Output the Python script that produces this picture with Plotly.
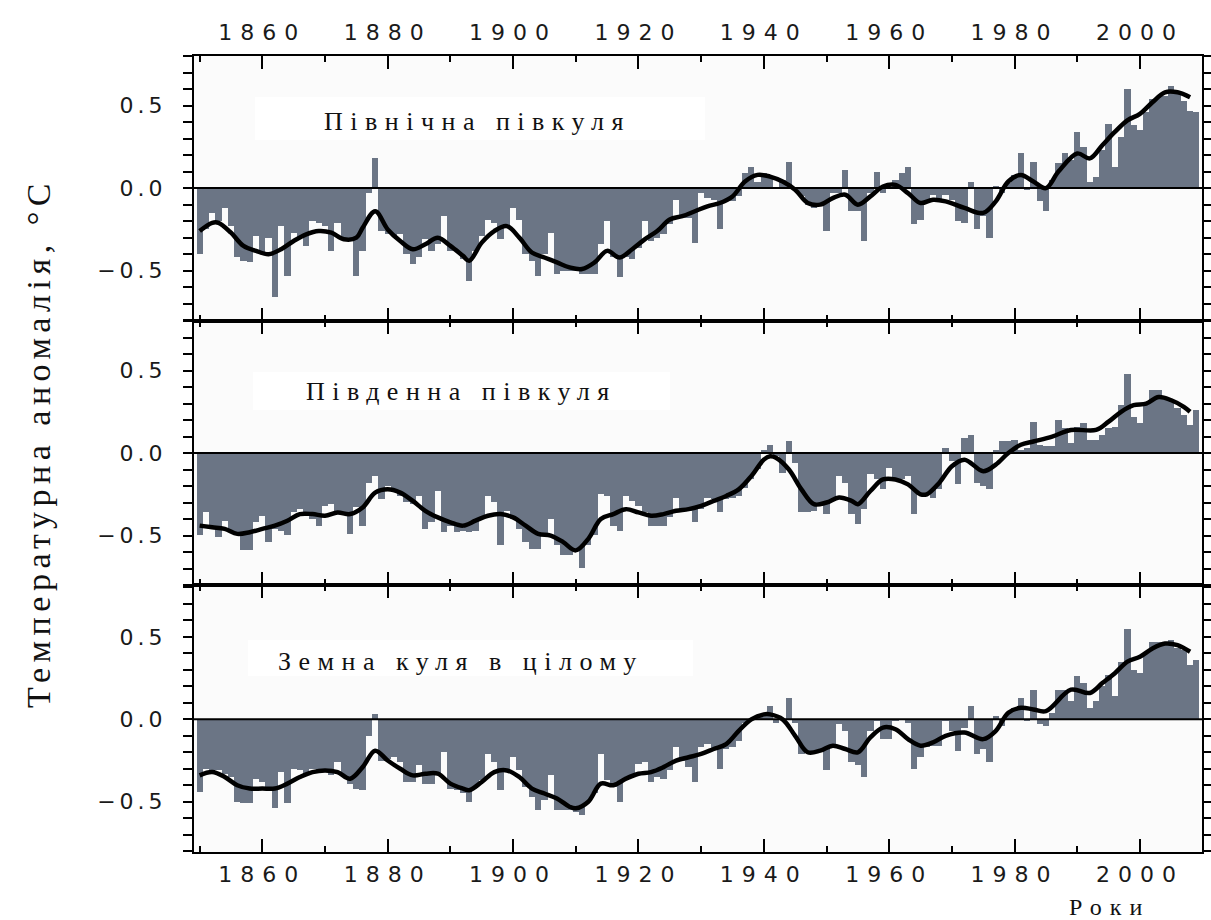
import plotly.graph_objects as go
from plotly.subplots import make_subplots

years = list(range(1850, 2010))

nh_annual = [
    -0.40, -0.25, -0.15, -0.20, -0.12, -0.23, -0.42, -0.44, -0.45, -0.29,
    -0.40, -0.30, -0.66, -0.23, -0.53, -0.27, -0.30, -0.35, -0.20, -0.21,
    -0.23, -0.38, -0.21, -0.31, -0.32, -0.53, -0.38, -0.03, 0.18, -0.26,
    -0.28, -0.29, -0.28, -0.40, -0.46, -0.42, -0.31, -0.38, -0.34, -0.17,
    -0.38, -0.38, -0.43, -0.56, -0.38, -0.29, -0.19, -0.21, -0.31, -0.24,
    -0.12, -0.19, -0.40, -0.44, -0.53, -0.40, -0.27, -0.52, -0.50, -0.50,
    -0.50, -0.52, -0.52, -0.52, -0.34, -0.20, -0.42, -0.54, -0.42, -0.43,
    -0.36, -0.20, -0.32, -0.30, -0.28, -0.22, -0.07, -0.18, -0.18, -0.33,
    -0.03, -0.06, -0.07, -0.25, -0.07, -0.08, -0.05, 0.09, 0.13, 0.04,
    0.09, 0.07, 0.00, 0.05, 0.16, 0.00, -0.05, -0.10, -0.12, -0.10,
    -0.26, -0.03, -0.03, 0.11, -0.14, -0.14, -0.32, -0.03, 0.10, -0.03,
    0.00, 0.05, 0.09, 0.13, -0.22, -0.19, -0.07, -0.04, -0.08, -0.04,
    -0.07, -0.20, -0.21, 0.04, -0.25, -0.17, -0.30, 0.01, -0.03, 0.03,
    0.08, 0.21, -0.01, 0.16, -0.08, -0.14, 0.05, 0.15, 0.21, 0.17,
    0.34, 0.25, 0.04, 0.07, 0.23, 0.39, 0.13, 0.31, 0.60, 0.38,
    0.35, 0.46, 0.54, 0.55, 0.56, 0.62, 0.58, 0.53, 0.47, 0.46,
]

sh_annual = [
    -0.50, -0.36, -0.46, -0.51, -0.41, -0.48, -0.50, -0.59, -0.59, -0.42,
    -0.38, -0.54, -0.46, -0.47, -0.50, -0.36, -0.34, -0.38, -0.40, -0.44,
    -0.32, -0.31, -0.36, -0.36, -0.49, -0.33, -0.44, -0.18, -0.14, -0.28,
    -0.20, -0.23, -0.26, -0.30, -0.31, -0.26, -0.46, -0.42, -0.23, -0.48,
    -0.44, -0.48, -0.47, -0.48, -0.47, -0.40, -0.26, -0.30, -0.56, -0.35,
    -0.40, -0.46, -0.54, -0.58, -0.58, -0.49, -0.40, -0.56, -0.62, -0.62,
    -0.59, -0.70, -0.56, -0.50, -0.25, -0.26, -0.44, -0.47, -0.26, -0.29,
    -0.32, -0.36, -0.44, -0.44, -0.44, -0.39, -0.27, -0.35, -0.35, -0.42,
    -0.34, -0.27, -0.28, -0.36, -0.28, -0.27, -0.26, -0.21, -0.16, -0.10,
    0.02, 0.05, -0.02, -0.12, 0.07, -0.06, -0.36, -0.36, -0.35, -0.32,
    -0.37, -0.29, -0.14, -0.18, -0.37, -0.43, -0.34, -0.13, -0.16, -0.22,
    -0.09, -0.16, -0.16, -0.14, -0.37, -0.24, -0.24, -0.27, -0.22, 0.03,
    -0.05, -0.19, 0.09, 0.11, -0.18, -0.20, -0.22, 0.02, 0.07, 0.07,
    0.08, 0.02, 0.03, 0.19, 0.05, 0.04, 0.04, 0.20, 0.15, 0.06,
    0.16, 0.18, 0.08, 0.08, 0.11, 0.15, 0.16, 0.29, 0.48, 0.22,
    0.18, 0.30, 0.38, 0.38, 0.34, 0.33, 0.27, 0.23, 0.17, 0.26,
]

gl_annual = [
    -0.44, -0.30, -0.32, -0.31, -0.33, -0.35, -0.50, -0.51, -0.51, -0.36,
    -0.38, -0.42, -0.54, -0.32, -0.51, -0.30, -0.31, -0.33, -0.30, -0.31,
    -0.31, -0.34, -0.26, -0.35, -0.39, -0.42, -0.43, -0.10, 0.03, -0.25,
    -0.24, -0.23, -0.26, -0.38, -0.38, -0.28, -0.39, -0.39, -0.33, -0.20,
    -0.42, -0.43, -0.45, -0.50, -0.41, -0.37, -0.21, -0.26, -0.43, -0.32,
    -0.23, -0.31, -0.41, -0.47, -0.55, -0.49, -0.34, -0.55, -0.55, -0.55,
    -0.56, -0.58, -0.50, -0.45, -0.21, -0.37, -0.41, -0.50, -0.36, -0.34,
    -0.27, -0.26, -0.38, -0.35, -0.36, -0.31, -0.17, -0.25, -0.29, -0.38,
    -0.17, -0.15, -0.18, -0.30, -0.18, -0.17, -0.13, -0.02, 0.00, 0.02,
    0.04, 0.08, -0.02, 0.00, 0.13, -0.02, -0.21, -0.19, -0.19, -0.20,
    -0.31, -0.15, -0.03, -0.07, -0.26, -0.28, -0.35, -0.07, -0.01, -0.12,
    -0.12, -0.01, 0.00, -0.02, -0.30, -0.23, -0.17, -0.16, -0.16, -0.01,
    -0.07, -0.19, -0.05, 0.08, -0.21, -0.18, -0.26, 0.02, -0.04, 0.04,
    0.07, 0.13, -0.01, 0.18, -0.03, -0.04, 0.04, 0.18, 0.18, 0.11,
    0.26, 0.22, 0.07, 0.11, 0.20, 0.27, 0.14, 0.35, 0.55, 0.30,
    0.28, 0.41, 0.47, 0.47, 0.46, 0.48, 0.43, 0.42, 0.33, 0.36,
]

nh_smooth_years = [1850, 1852, 1853, 1855, 1857, 1859, 1861, 1863, 1865, 1867, 1869, 1871,
                   1873, 1875, 1876, 1878, 1880, 1882, 1884, 1886, 1888, 1890, 1892, 1893,
                   1895, 1897, 1899, 1901, 1903, 1905, 1907, 1909, 1911, 1913, 1915, 1917,
                   1919, 1921, 1923, 1925, 1927, 1929, 1931, 1933, 1935, 1937, 1939, 1941,
                   1943, 1945, 1947, 1949, 1951, 1953, 1955, 1957, 1959, 1961, 1963, 1965,
                   1967, 1969, 1972, 1975, 1977, 1979, 1981, 1983, 1985, 1987, 1990, 1992,
                   1994, 1996, 1998, 2000, 2002, 2004, 2006, 2008]
nh_smooth = [-0.26, -0.21, -0.21, -0.27, -0.35, -0.38, -0.40, -0.37, -0.32, -0.28, -0.26, -0.27,
             -0.31, -0.30, -0.24, -0.14, -0.25, -0.32, -0.37, -0.34, -0.30, -0.35, -0.41, -0.44,
             -0.33, -0.26, -0.23, -0.30, -0.39, -0.42, -0.45, -0.48, -0.49, -0.45, -0.38, -0.42,
             -0.37, -0.31, -0.26, -0.19, -0.17, -0.14, -0.11, -0.09, -0.05, 0.04, 0.08, 0.07,
             0.04, -0.01, -0.09, -0.10, -0.06, -0.04, -0.10, -0.05, 0.01, 0.02, -0.03, -0.09,
             -0.07, -0.08, -0.12, -0.15, -0.08, 0.04, 0.08, 0.04, 0.00, 0.10, 0.21, 0.18,
             0.26, 0.34, 0.41, 0.45, 0.52, 0.58, 0.58, 0.55]

sh_smooth_years = [1850, 1852, 1854, 1856, 1858, 1860, 1862, 1864, 1866, 1868, 1870, 1872,
                   1874, 1876, 1878, 1880, 1882, 1884, 1886, 1888, 1890, 1892, 1894, 1896,
                   1898, 1900, 1902, 1904, 1906, 1908, 1910, 1912, 1914, 1916, 1918, 1920,
                   1922, 1924, 1926, 1928, 1930, 1932, 1934, 1936, 1938, 1940, 1941, 1942,
                   1944, 1946, 1948, 1950, 1952, 1954, 1955, 1957, 1959, 1961, 1963, 1965,
                   1966, 1968, 1970, 1972, 1975, 1977, 1979, 1981, 1983, 1986, 1989, 1993,
                   1995, 1997, 1999, 2001, 2003, 2005, 2007, 2008]
sh_smooth = [-0.44, -0.45, -0.46, -0.49, -0.48, -0.46, -0.44, -0.41, -0.37, -0.37, -0.38, -0.36,
             -0.37, -0.33, -0.24, -0.22, -0.24, -0.29, -0.35, -0.39, -0.42, -0.44, -0.41, -0.38,
             -0.37, -0.39, -0.44, -0.49, -0.50, -0.54, -0.59, -0.52, -0.40, -0.37, -0.34, -0.36,
             -0.38, -0.37, -0.35, -0.34, -0.32, -0.29, -0.26, -0.22, -0.14, -0.04, -0.02, -0.03,
             -0.10, -0.22, -0.31, -0.30, -0.27, -0.29, -0.31, -0.23, -0.16, -0.16, -0.19, -0.25,
             -0.25, -0.18, -0.08, -0.04, -0.11, -0.07, 0.00, 0.05, 0.07, 0.10, 0.14, 0.14,
             0.19, 0.25, 0.29, 0.30, 0.34, 0.32, 0.28, 0.25]

gl_smooth_years = [1850, 1852, 1854, 1856, 1858, 1860, 1862, 1864, 1866, 1868, 1870, 1872,
                   1874, 1876, 1878, 1880, 1882, 1884, 1886, 1888, 1890, 1892, 1893, 1895,
                   1897, 1899, 1901, 1903, 1905, 1907, 1909, 1910, 1912, 1914, 1916, 1918,
                   1920, 1922, 1924, 1926, 1928, 1930, 1932, 1934, 1936, 1938, 1940, 1941,
                   1943, 1945, 1947, 1949, 1951, 1953, 1955, 1957, 1959, 1961, 1963, 1965,
                   1967, 1969, 1972, 1975, 1977, 1979, 1981, 1983, 1985, 1989, 1992, 1994,
                   1996, 1998, 2000, 2002, 2004, 2006, 2008]
gl_smooth = [-0.34, -0.32, -0.35, -0.40, -0.42, -0.42, -0.42, -0.39, -0.35, -0.32, -0.31, -0.32,
             -0.36, -0.29, -0.19, -0.25, -0.30, -0.34, -0.33, -0.33, -0.39, -0.42, -0.43, -0.38,
             -0.32, -0.31, -0.35, -0.42, -0.45, -0.48, -0.53, -0.54, -0.50, -0.39, -0.40, -0.36,
             -0.33, -0.32, -0.29, -0.25, -0.23, -0.21, -0.18, -0.15, -0.07, 0.00, 0.03, 0.03,
             0.00, -0.10, -0.20, -0.19, -0.16, -0.18, -0.20, -0.11, -0.05, -0.06, -0.12, -0.16,
             -0.14, -0.10, -0.08, -0.12, -0.07, 0.04, 0.07, 0.06, 0.05, 0.18, 0.16, 0.22,
             0.28, 0.35, 0.38, 0.43, 0.46, 0.45, 0.41]

panel_labels = ["Північна півкуля", "Південна півкуля", "Земна куля в цілому"]
x_tick_vals = [1860, 1880, 1900, 1920, 1940, 1960, 1980, 2000]
x_tick_labels = ["1860", "1880", "1900", "1920", "1940", "1960", "1980", "2000"]
x_minor_vals = [1850, 1870, 1890, 1910, 1930, 1950, 1970, 1990, 2010]
y_tick_vals = [-0.5, 0.0, 0.5]
y_tick_labels = ["\u22120.5", "0.0", "0.5"]
y_title = "Температурна аномалія, °C"
x_title = "Роки"

BAR = "#6b7585"


def spaced(t, ls):
    return f'<span style="letter-spacing:{ls}px">{t}</span>'


fig = make_subplots(rows=3, cols=1, shared_xaxes=True, vertical_spacing=0)

series = [(nh_annual, nh_smooth_years, nh_smooth),
          (sh_annual, sh_smooth_years, sh_smooth),
          (gl_annual, gl_smooth_years, gl_smooth)]

for i, (ann, sy, sv) in enumerate(series, start=1):
    fig.add_trace(go.Bar(x=years, y=ann, width=1.0, marker=dict(color=BAR, line=dict(width=0)),
                         showlegend=False), row=i, col=1)
    fig.add_hline(y=0, line=dict(color="black", width=2), layer="above", row=i, col=1)
    fig.add_trace(go.Scatter(x=sy, y=sv, mode="lines",
                             line=dict(color="black", width=4.5, shape="spline", smoothing=1.0),
                             showlegend=False), row=i, col=1)

domains = [[0.667, 1.0], [0.3354, 0.667], [0.0, 0.3354]]
yranges = [[-0.805, 0.80], [-0.80, 0.80], [-0.805, 0.815]]
tickfont = dict(family="DejaVu Sans, Arial, sans-serif", size=22, color="#1a1a1a")
x_standoff = [5, 0, 2]

for i in range(3):
    xa = "xaxis" if i == 0 else f"xaxis{i+1}"
    ya = "yaxis" if i == 0 else f"yaxis{i+1}"
    fig.layout[xa].update(
        range=[1849.1, 2009.9], showline=True, linewidth=2, linecolor="black",
        mirror="ticks", ticks="inside", ticklen=13, tickwidth=2, tickcolor="black",
        tickvals=x_tick_vals, ticktext=[spaced(t, 8) for t in x_tick_labels],
        minor=dict(tickvals=x_minor_vals, ticks="inside", ticklen=6, tickwidth=2, tickcolor="black"),
        showgrid=False, zeroline=False, tickfont=tickfont, automargin=False,
        showticklabels=(i != 1), side=("top" if i == 0 else "bottom"),
        ticklabelstandoff=x_standoff[i],
    )
    fig.layout[ya].update(
        domain=domains[i], range=yranges[i], showline=True, linewidth=2, linecolor="black",
        mirror="ticks", ticks="outside", ticklen=9, tickwidth=2, tickcolor="black",
        tickvals=y_tick_vals, ticktext=[spaced(t, 4) for t in y_tick_labels],
        minor=dict(dtick=0.1, tick0=0, ticks="outside", ticklen=9, tickwidth=2, tickcolor="black"),
        showgrid=False, zeroline=False, automargin=False,
        tickfont=tickfont, ticklabelstandoff=12,
    )

# label boxes
boxes = [(0.0605, 0.5069, 0.8945, 0.9485), (0.0585, 0.4722, 0.5553, 0.6030),
         (0.0536, 0.4950, 0.2211, 0.2663)]
for x0, x1, y0, y1 in boxes:
    fig.add_shape(type="rect", xref="paper", yref="paper", x0=x0, x1=x1, y0=y0, y1=y1,
                  fillcolor="white", line=dict(width=0), layer="below")

label_pos = [(0.2817, 0.9171), (0.2649, 0.5779), (0.2649, 0.2399)]
for (xp, yp), txt in zip(label_pos, panel_labels):
    fig.add_annotation(x=xp, y=yp, xref="paper", yref="paper", text=spaced(txt, 7.5),
                       showarrow=False, xanchor="center", yanchor="middle",
                       font=dict(family="Liberation Serif, Times New Roman, serif", size=26, color="#111"))

fig.add_annotation(x=-0.1548, y=0.5138, xref="paper", yref="paper", text=spaced(y_title, 5.5),
                   textangle=-90, showarrow=False, xanchor="center", yanchor="middle",
                   font=dict(family="Liberation Serif, Times New Roman, serif", size=34, color="#111"))
fig.add_annotation(x=0.9087, y=-0.0690, xref="paper", yref="paper", text=spaced(x_title, 8),
                   showarrow=False, xanchor="center", yanchor="middle",
                   font=dict(family="Liberation Serif, Times New Roman, serif", size=24, color="#111"))

fig.update_layout(
    width=1211, height=920, margin=dict(l=194, r=9, t=56, b=68),
    paper_bgcolor="white", plot_bgcolor="#fbfbfb", bargap=0, showlegend=False,
)

fig.write_html("out.html", config={"displayModeBar": False},
               post_script="document.body.style.margin='0';document.body.style.overflow='hidden';")
